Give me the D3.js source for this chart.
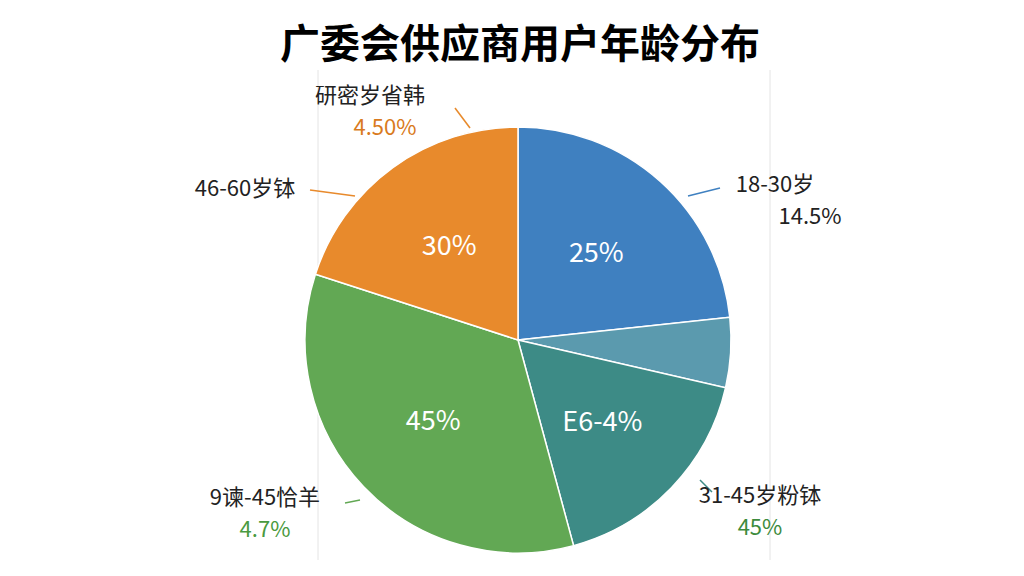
<!DOCTYPE html>
<html><head><meta charset="utf-8">
<script src="https://cdn.jsdelivr.net/npm/d3@7"></script>
<style>body{margin:0;background:#fff}</style></head>
<body><svg id="c" width="1024" height="576"></svg>
<script>
const categories=["18-30岁","小段","31-45岁粉钵","9谏-45恰羊","46-60岁钵"];
const values=[23.3,5.3,17.2,34.2,20.0];
const innerLabels=["25%","","E6-4%","45%","30%"];
const colors=["#3f80c0","#5b9aae","#3d8b86","#62a854","#e88a2c"];
const outerLabels=[
 {name:"研密岁省韩",pct:"4.50%",pc:"#d97a20",x:370,y:103,lx:[455,470],ly:[108,128]},
 {name:"46-60岁钵",pct:"",pc:"#000",x:245,y:196,lx:[310,355],ly:[190,196]},
 {name:"18-30岁",pct:"14.5%",pc:"#222",x:775,y:192,lx:[688,720],ly:[196,188]},
 {name:"31-45岁粉钵",pct:"45%",pc:"#3d8b3d",x:760,y:503,lx:[700,712],ly:[480,492]},
 {name:"9谏-45恰羊",pct:"4.7%",pc:"#4a9a40",x:265,y:505,lx:[345,360],ly:[503,500]}
];
const svg=d3.select("#c");
const cx=518,cy=340,r=213;
svg.append("line").attr("x1",318).attr("x2",318).attr("y1",70).attr("y2",560).attr("stroke","#e4e4e4");
svg.append("line").attr("x1",770).attr("x2",770).attr("y1",70).attr("y2",560).attr("stroke","#e4e4e4");
svg.append("text").attr("x",520).attr("y",58).attr("text-anchor","middle").attr("font-size",40).attr("font-weight","bold").attr("font-family","Noto Sans CJK SC").text("广委会供应商用户年龄分布");
const pie=d3.pie().sort(null).value(d=>d)(values);
const arc=d3.arc().innerRadius(0).outerRadius(r);
const g=svg.append("g").attr("transform",`translate(${cx},${cy})`);
g.selectAll("path").data(pie).enter().append("path").attr("d",arc).attr("fill",(d,i)=>colors[i]).attr("stroke","#fff").attr("stroke-width",1.5);
const lpos=d3.arc().innerRadius(r*0.55).outerRadius(r*0.55);
g.selectAll("text.in").data(pie).enter().append("text").attr("transform",d=>`translate(${lpos.centroid(d)})`)
 .attr("text-anchor","middle").attr("dy","0.35em").attr("fill","#fff").attr("font-size",27).attr("font-family","Noto Sans CJK SC").text((d,i)=>innerLabels[i]);
outerLabels.forEach((o,i)=>{
 const lc=i==0||i==1?"#e88a2c":i==2?"#3f80c0":i==3?"#3d8b86":"#62a854";
 svg.append("line").attr("x1",o.lx[0]).attr("x2",o.lx[1]).attr("y1",o.ly[0]).attr("y2",o.ly[1]).attr("stroke",lc).attr("stroke-width",1.5);
 svg.append("text").attr("x",o.x).attr("y",o.y).attr("text-anchor","middle").attr("font-size",22).attr("fill","#222").attr("font-family","Noto Sans CJK SC").text(o.name);
 if(o.pct) svg.append("text").attr("x",o.x+(i==2?35:i==0?15:0)).attr("y",o.y+32).attr("text-anchor","middle").attr("font-size",22).attr("fill",o.pc).attr("font-family","Noto Sans CJK SC").text(o.pct);
});
</script></body></html>
